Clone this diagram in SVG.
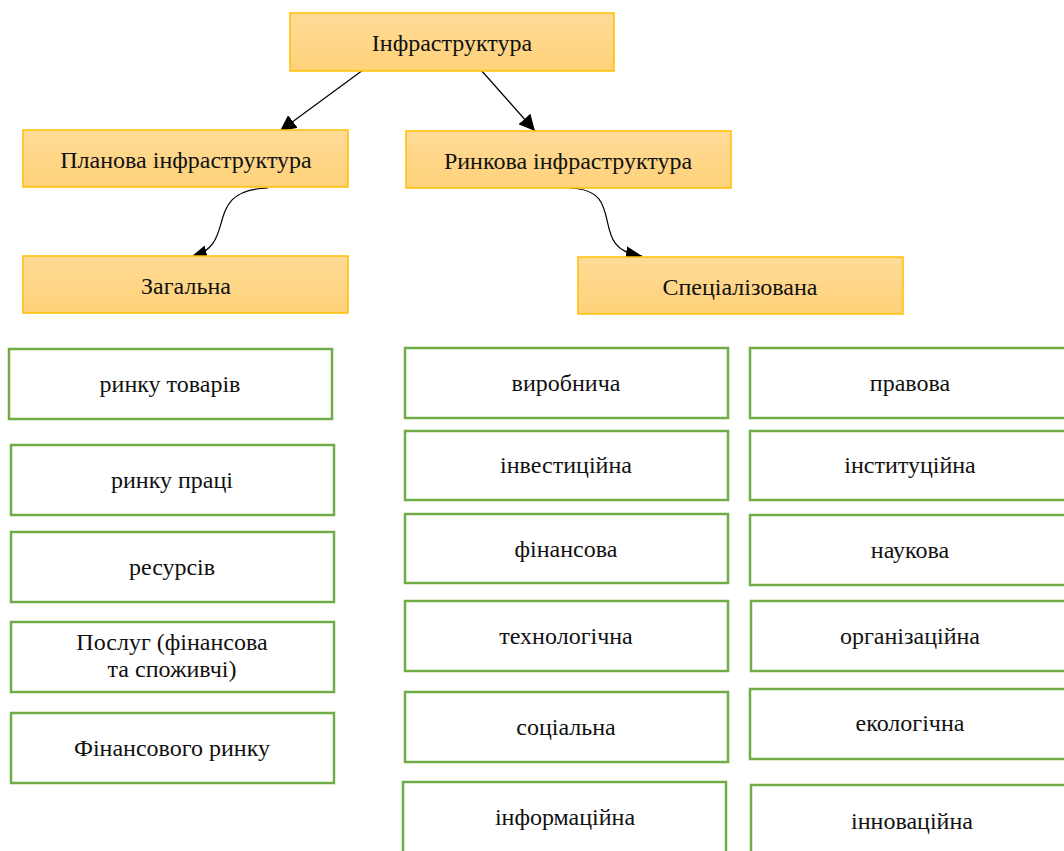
<svg xmlns="http://www.w3.org/2000/svg" width="1064" height="851" viewBox="0 0 1064 851">
<style>
.y{stroke:#FFC000;stroke-width:1.5;fill:url(#gy)}
.g{stroke:#70AD47;stroke-width:2.5;fill:#fff}
text{font-family:"Liberation Serif","Times New Roman",serif;font-size:24px;fill:#111;text-anchor:middle;dominant-baseline:central}
.c{fill:none;stroke:#000;stroke-width:1.2}
</style>
<defs>
<linearGradient id="gy" x1="0" y1="0" x2="0" y2="1">
<stop offset="0" stop-color="#FFDB98"/>
<stop offset="1" stop-color="#FFD279"/>
</linearGradient>
<marker id="ah" viewBox="0 0 10 10" refX="10" refY="5" markerWidth="16" markerHeight="16" markerUnits="userSpaceOnUse" orient="auto">
<path d="M0,0 L10,5 L0,10 z" fill="#000"/>
</marker>
</defs>
<rect width="1064" height="851" fill="#fff"/>
<g id="connectors">
<path class="c" d="M363,70 L280,131" marker-end="url(#ah)"/>
<path class="c" d="M481,70 L535,131" marker-end="url(#ah)"/>
<path class="c" d="M268,188 C200,190 240,245 191,257" marker-end="url(#ah)"/>
<path class="c" d="M570,188 C630,190 585,250 642,256" marker-end="url(#ah)"/>
</g>
<g id="n-infra"><rect class="y" x="290" y="13" width="324" height="58"/><text x="452" y="43">Інфраструктура</text></g>
<g id="n-planova"><rect class="y" x="23" y="130" width="325" height="57"/><text x="186" y="160">Планова інфраструктура</text></g>
<g id="n-rynkova"><rect class="y" x="406" y="131" width="325" height="57"/><text x="568" y="161">Ринкова інфраструктура</text></g>
<g id="n-zagalna"><rect class="y" x="23" y="256" width="325" height="57"/><text x="186" y="286">Загальна</text></g>
<g id="n-spec"><rect class="y" x="578" y="257" width="325" height="57"/><text x="740" y="287">Спеціалізована</text></g>

<g id="n-l1"><rect class="g" x="9" y="349" width="323" height="70"/><text x="170" y="384">ринку товарів</text></g>
<g id="n-l2"><rect class="g" x="11" y="445" width="323" height="70"/><text x="172" y="480">ринку праці</text></g>
<g id="n-l3"><rect class="g" x="11" y="532" width="323" height="70"/><text x="172" y="567">ресурсів</text></g>
<g id="n-l4"><rect class="g" x="11" y="622" width="323" height="70"/><text x="172" y="642">Послуг (фінансова</text><text x="172" y="669">та споживчі)</text></g>
<g id="n-l5"><rect class="g" x="11" y="713" width="323" height="70"/><text x="172" y="748">Фінансового ринку</text></g>

<g id="n-m1"><rect class="g" x="405" y="348" width="323" height="70"/><text x="566" y="383">виробнича</text></g>
<g id="n-m2"><rect class="g" x="405" y="431" width="323" height="69"/><text x="566" y="465">інвестиційна</text></g>
<g id="n-m3"><rect class="g" x="405" y="514" width="323" height="69"/><text x="566" y="549">фінансова</text></g>
<g id="n-m4"><rect class="g" x="405" y="601" width="323" height="70"/><text x="566" y="636">технологічна</text></g>
<g id="n-m5"><rect class="g" x="405" y="692" width="323" height="70"/><text x="566" y="727">соціальна</text></g>
<g id="n-m6"><rect class="g" x="403" y="782" width="323" height="80"/><text x="565" y="817">інформаційна</text></g>

<g id="n-r1"><rect class="g" x="750" y="348" width="330" height="70"/><text x="910" y="383">правова</text></g>
<g id="n-r2"><rect class="g" x="750" y="431" width="330" height="69"/><text x="910" y="465">інституційна</text></g>
<g id="n-r3"><rect class="g" x="750" y="515" width="330" height="70"/><text x="910" y="550">наукова</text></g>
<g id="n-r4"><rect class="g" x="751" y="601" width="330" height="70"/><text x="910" y="636">організаційна</text></g>
<g id="n-r5"><rect class="g" x="750" y="689" width="330" height="70"/><text x="910" y="723">екологічна</text></g>
<g id="n-r6"><rect class="g" x="751" y="785" width="330" height="80"/><text x="912" y="821">інноваційна</text></g>
</svg>
